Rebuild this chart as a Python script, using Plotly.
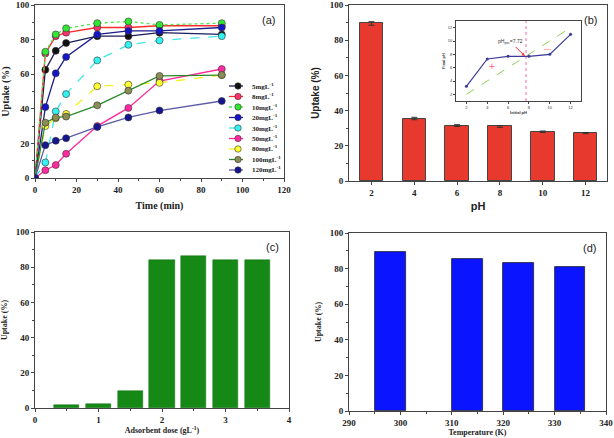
import plotly.graph_objects as go

# ---------------- data ----------------
time_min = [0, 5, 10, 15, 30, 45, 60, 90]
conc_labels = ["5mgL<sup>-1</sup>", "8mgL<sup>-1</sup>", "10mgL<sup>-1</sup>", "20mgL<sup>-1</sup>",
               "30mgL<sup>-1</sup>", "50mgL<sup>-1</sup>", "80mgL<sup>-1</sup>", "100mgL<sup>-1</sup>",
               "120mgL<sup>-1</sup>"]
uptake_5 = [0, 62.5, 73.5, 78, 82, 82, 84, 83]
uptake_8 = [0, 72, 82, 84, 87, 87, 88, 88]
uptake_10 = [0, 73, 83, 86.5, 89.5, 90.5, 88.5, 89.5]
uptake_20 = [0, 41, 60.5, 70, 83, 85, 85, 87]
uptake_30 = [0, 9, 38.5, 48.5, 68, 77, 79.5, 82]
uptake_50 = [0, 4.5, 7.5, 14, 30, 40.5, 56, 63]
uptake_80 = [0, 30, 34.5, 37, 53, 54, 55, 59.5]
uptake_100 = [0, 32, 35, 35.5, 42, 50.5, 59, 59.5]
uptake_120 = [0, 19, 21.5, 23, 29.5, 35, 39, 44.5]

ph_values = [2, 4, 6, 8, 10, 12]
ph_uptake = [89.5, 35.5, 31.5, 31.0, 28.0, 27.2]
ph_err = [1.0, 0.7, 0.5, 0.5, 0.4, 0.3]

initial_ph = [2, 4, 6, 8, 10, 12]
final_ph = [3.2, 7.3, 7.7, 7.7, 8.0, 11.0]
ph_pzc = 7.72

dose = [0.5, 1.0, 1.5, 2.0, 2.5, 3.0, 3.5]
dose_uptake = [1.5, 2.0, 9.5, 84.0, 86.5, 84.2, 84.2]

temperature = [298, 313, 323, 333]
temp_uptake = [89.5, 85.5, 83.0, 80.7]

# ---------------- styles ----------------
line_colors = ["#1c1c5c", "#ff2a2a", "#4ee84e", "#1c1c8c", "#3fe6e6", "#ff2a9a", "#f2f21a", "#2a8a2a", "#5a5aa8"]
marker_colors = ["#111111", "#ff3070", "#33e633", "#1515c8", "#33f2f2", "#ff2aa0", "#ffff33", "#8c8c55", "#151590"]
dashes = ["solid", "solid", "dot", "solid", "dash", "solid", "dash", "solid", "solid"]
series = [uptake_5, uptake_8, uptake_10, uptake_20, uptake_30, uptake_50, uptake_80, uptake_100, uptake_120]

SERIF = "Liberation Serif"
SANS = "Liberation Sans"

fig = go.Figure()

for lab, ys, lc, mc, ds in zip(conc_labels, series, line_colors, marker_colors, dashes):
    fig.add_trace(go.Scatter(
        x=time_min, y=ys, name=lab, mode="lines+markers", showlegend=False,
        line=dict(color=lc, width=1.3, dash=ds),
        marker=dict(color=mc, size=7, line=dict(color="#333333", width=0.6)),
        xaxis="x", yaxis="y"))

# (b) pH bars
fig.add_trace(go.Bar(
    x=ph_values, y=ph_uptake, width=1.1, showlegend=False,
    marker=dict(color="#e8392f", line=dict(color="#444444", width=1)),
    error_y=dict(type="data", array=ph_err, color="#333333", thickness=1, width=3),
    xaxis="x2", yaxis="y2"))

# inset
fig.add_trace(go.Scatter(
    x=[initial_ph[0], initial_ph[-1]], y=[initial_ph[0], initial_ph[-1]], mode="lines",
    line=dict(color="#8fcf5a", width=1, dash="dash"), showlegend=False,
    xaxis="x5", yaxis="y5"))
fig.add_trace(go.Scatter(
    x=[ph_pzc, ph_pzc], y=[1, 13], mode="lines",
    line=dict(color="#ff66aa", width=1, dash="dot"), showlegend=False,
    xaxis="x5", yaxis="y5"))
fig.add_trace(go.Scatter(
    x=initial_ph, y=final_ph, mode="lines+markers",
    line=dict(color="#3a3a9a", width=1.2),
    marker=dict(color="#3a3a9a", size=3), showlegend=False,
    xaxis="x5", yaxis="y5"))

# (c) dose bars
fig.add_trace(go.Bar(
    x=dose, y=dose_uptake, width=0.4, showlegend=False,
    marker=dict(color="#168816", line=dict(color="#0e6e0e", width=0.5)),
    xaxis="x3", yaxis="y3"))

# (d) temperature bars
fig.add_trace(go.Bar(
    x=temperature, y=temp_uptake, width=6, showlegend=False,
    marker=dict(color="#0a14ff", line=dict(color="#222222", width=0.8)),
    xaxis="x4", yaxis="y4"))

W, H = 614, 438
def dx(a, b):
    return [a / W, b / W]
def dy(top, bottom):
    return [1 - bottom / H, 1 - top / H]

tick_serif = dict(family=SERIF, size=9, color="#222222", weight="bold")
title_serif = dict(family=SERIF, size=10, color="#222222", weight="bold")

def ax(domain, rng, dtick, anchor, tickfont=tick_serif, minor=True, **kw):
    d = dict(domain=domain, range=rng, dtick=dtick, anchor=anchor,
             showline=True, mirror=True, linecolor="#444444", linewidth=1,
             ticks="outside", ticklen=3, tickwidth=1, tickcolor="#444444",
             showgrid=False, zeroline=False, tickfont=tickfont, automargin=False)
    if minor:
        d["minor"] = dict(ticks="outside", ticklen=2, tickcolor="#444444", dtick=dtick / 2)
    d.update(kw)
    return d

fig.update_layout(
    width=W, height=H, margin=dict(l=0, r=0, t=0, b=0),
    paper_bgcolor="white", plot_bgcolor="white",
    bargap=0,
    xaxis=ax(dx(35, 284), [0, 120], 20, "y",
             title=dict(text="Time (min)", font=title_serif, standoff=8)),
    yaxis=ax(dy(5, 178), [0, 100], 20, "x",
             title=dict(text="Uptake (%)", font=title_serif, standoff=6)),
    xaxis2=ax(dx(349, 607), [0.95, 13], 2, "y2", minor=False,
              title=dict(text="pH", font=dict(family=SANS, size=11, color="#222222", weight="bold"), standoff=5)),
    yaxis2=ax(dy(5, 181), [0, 100], 20, "x2",
              title=dict(text="Uptake (%)", font=dict(family=SANS, size=10, color="#222222", weight="bold"), standoff=8)),
    xaxis3=ax(dx(35, 289), [0, 4], 1, "y3",
              title=dict(text="Adsorbent dose (gL<sup>-1</sup>)", font=dict(family=SERIF, size=8, color="#222222", weight="bold"), standoff=2)),
    yaxis3=ax(dy(232, 408), [0, 100], 20, "x3",
              title=dict(text="Uptake (%)", font=dict(family=SERIF, size=8, color="#222222", weight="bold"), standoff=6)),
    xaxis4=ax(dx(349, 606), [290, 340], 10, "y4",
              title=dict(text="Temperature (K)", font=dict(family=SERIF, size=8, color="#222222", weight="bold"), standoff=2)),
    yaxis4=ax(dy(233, 411), [0, 100], 20, "x4",
              title=dict(text="Uptake (%)", font=dict(family=SERIF, size=8, color="#222222", weight="bold"), standoff=6)),
    xaxis5=ax(dx(456, 581), [1, 13], 2, "y5", minor=False,
              tickfont=dict(family=SANS, size=4, color="#333333"), ticklen=2, linewidth=0.8,
              title=dict(text="Initial pH", font=dict(family=SANS, size=4, color="#333333", weight="bold"), standoff=2)),
    yaxis5=ax(dy(21, 101), [1, 13], 2, "x5", minor=False,
              tickfont=dict(family=SANS, size=4, color="#333333"), ticklen=2, linewidth=0.8,
              title=dict(text="Final pH", font=dict(family=SANS, size=4, color="#333333", weight="bold"), standoff=2)),
    showlegend=False,
)

# compact legend for panel (a), built from the series styles
leg_x0, leg_x1, leg_text = 229, 243, 250
leg_top, leg_step = 86, 10.5
for i, (lab, lc, mc, ds) in enumerate(zip(conc_labels, line_colors, marker_colors, dashes)):
    yc = 1 - (leg_top + i * leg_step) / H
    fig.add_shape(type="line", xref="paper", yref="paper", x0=leg_x0 / W, x1=leg_x1 / W, y0=yc, y1=yc,
                  line=dict(color=lc, width=1.3, dash=ds))
    r = 3.2
    fig.add_shape(type="circle", xref="paper", yref="paper",
                  x0=(238 - r) / W, x1=(238 + r) / W, y0=yc - r / H, y1=yc + r / H,
                  fillcolor=mc, line=dict(color="#333333", width=0.6))
    fig.add_annotation(text=lab, xref="paper", yref="paper", x=leg_text / W, y=yc,
                       xanchor="left", yanchor="middle", showarrow=False,
                       font=dict(family=SERIF, size=7, color="#222222", weight="bold"))

panel_font = dict(family=SANS, size=11, color="#222222")
for txt, xr, yr in [("(a)", "x domain", "y domain"), ("(b)", "x2 domain", "y2 domain"),
                    ("(c)", "x3 domain", "y3 domain"), ("(d)", "x4 domain", "y4 domain")]:
    fig.add_annotation(text=txt, xref=xr, yref=yr, x=0.97, y=0.96, xanchor="right", yanchor="top",
                       showarrow=False, font=panel_font)

# inset annotations
fig.add_annotation(text="pH<sub>pzc</sub>=7.72", xref="x5", yref="y5", x=7.6, y=7.75,
                   ax=-14, ay=-14, showarrow=True, arrowhead=2, arrowsize=0.6, arrowwidth=1,
                   arrowcolor="#ff2222", font=dict(family=SANS, size=5, color="#333333"))
fig.add_annotation(text="+", xref="x5", yref="y5", x=4.5, y=6.2, showarrow=False,
                   font=dict(family=SANS, size=10, color="#ff6688"))
fig.add_annotation(text="\u2014", xref="x5", yref="y5", x=9.8, y=8.9, showarrow=False,
                   font=dict(family=SANS, size=7, color="#ff6688"))

fig.write_html("out.html", config={"displayModeBar": False},
               post_script="document.body.style.margin='0';")
